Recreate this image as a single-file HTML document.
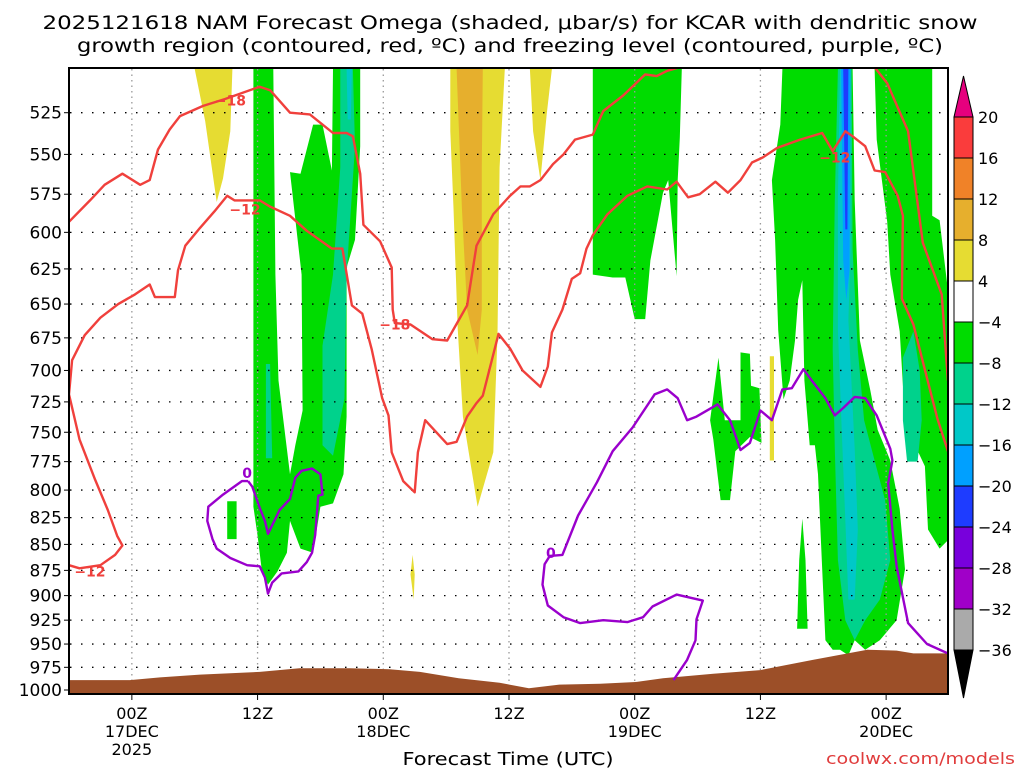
<!DOCTYPE html>
<html><head><meta charset="utf-8"><title>NAM Forecast Omega KCAR</title>
<style>
html,body{margin:0;padding:0;background:#fff;}
svg{display:block;font-family:"DejaVu Sans","Liberation Sans",sans-serif;}
</style></head>
<body>
<svg id="chart" width="1024" height="768" viewBox="0 0 1024 768" xmlns="http://www.w3.org/2000/svg">
<defs><clipPath id="plotclip"><rect x="69" y="68" width="879" height="626"/></clipPath></defs>
<text x="510" y="29" text-anchor="middle" font-size="19" textLength="935" lengthAdjust="spacingAndGlyphs">2025121618 NAM Forecast Omega (shaded, μbar/s) for KCAR with dendritic snow</text>
<text x="510" y="52" text-anchor="middle" font-size="19" textLength="866" lengthAdjust="spacingAndGlyphs">growth region (contoured, red, ºC) and freezing level (contoured, purple, ºC)</text>
<g id="shade" clip-path="url(#plotclip)"></g>
<g id="grid"></g>
<g id="terrain" clip-path="url(#plotclip)"></g>
<g id="contours" clip-path="url(#plotclip)"></g>
<rect x="69" y="68" width="879" height="626" fill="none" stroke="#000" stroke-width="2"/>
<g id="yaxis"></g>
<g id="xaxis"></g>
<text x="508" y="765" text-anchor="middle" font-size="18" textLength="211" lengthAdjust="spacingAndGlyphs">Forecast Time (UTC)</text>
<text x="1015" y="764" text-anchor="end" font-size="16" fill="#e03c3c" textLength="189" lengthAdjust="spacingAndGlyphs">coolwx.com/models</text>
<g id="colorbar"></g>
</svg>
<script>
// ---- data ----
const pressureTicks = [525,550,575,600,625,650,675,700,725,750,775,800,825,850,875,900,925,950,975,1000];
const timeTickHours = [6,18,30,42,54,66,78];
const timeTickLabels = [["00Z","17DEC","2025"],["12Z"],["00Z","18DEC"],["12Z"],["00Z","19DEC"],["12Z"],["00Z","20DEC"]];
const colorLevels = ["20","16","12","8","4","-4","-8","-12","-16","-20","-24","-28","-32","-36"];
const colorFills = ["#fa3c3c","#f08228","#e6af2d","#e6dc32","#ffffff","#00dc00","#00d28c","#00c8c8","#00a0ff","#1e3cff","#7800dc","#a000c8","#aaaaaa"];

// terrain (surface pressure)
const terrainHours = [0,5.8,8.7,12.5,18.2,22.0,26.8,30.6,33.5,37.2,41.1,43.9,46.8,50.7,54.2,56.7,61.5,66.0,71.0,76.2,79.0,80.6,83.9];
const terrainPres  = [989,989,986,983,980,976,976,977,980,987,992,998,994,993,991,987,982,978,967,956,957,960,960];

// shaded omega regions: [hour, hPa]
const greenA = [[17.6,500],[19.5,500],[19.7,629],[20.0,708],[21.1,786],[21.6,761],[22.3,732],[22.2,629],[21.1,561],[22.1,562],[23.3,532],[24.2,532],[25.1,560],[25.2,500],[27.8,500],[27.8,545],[27.3,605],[26.5,624],[26.5,737],[26.2,786],[25.2,812],[24.0,815],[23.3,858],[22.1,854],[21.1,828],[20.8,858],[19.9,876],[19.0,889],[18.4,875],[18.0,842],[17.6,815]];
const tealA = [[25.9,500],[27.1,500],[27.3,545],[26.5,629],[26.3,722],[25.2,770],[24.2,761],[24.2,681],[25.2,629],[25.9,558]];
const tealStreak = [[18.8,695],[19.2,695],[19.4,772],[18.8,772]];
const cyanA = [[26.5,500],[27.0,500],[26.9,529],[26.6,529]];
const greenRect = [[15.1,810],[16.0,810],[16.0,845],[15.1,845]];
const yellow1 = [[12.0,500],[15.6,500],[15.4,536],[14.7,565],[14.1,580],[13.0,530]];
const yellow2 = [[36.4,500],[41.6,500],[41.1,558],[40.9,673],[40.5,767],[39.0,815],[37.6,737],[37.1,668],[36.7,584],[36.4,536]];
const orange2 = [[37.0,500],[39.5,500],[39.4,558],[39.4,654],[39.0,688],[38.0,654],[37.5,584]];
const yellow3 = [[44.0,500],[46.1,500],[45.6,526],[45.0,566],[44.3,536]];
const yellowDot1 = [[32.8,860],[33.0,879],[32.9,904],[32.6,879]];
const yellowDot2 = [[66.9,689],[67.3,689],[67.3,774],[66.9,774]];
const green2 = [[50.0,500],[58.5,500],[58.3,540],[58.1,566],[58.0,630],[57.2,566],[56.7,574],[55.5,619],[55.0,661],[54.0,661],[53.1,631],[51.9,631],[50.0,629]];
const greenMid = [[62.0,690],[62.6,740],[64.1,740],[64.1,686],[65.0,687],[65.1,712],[65.9,714],[66.1,759],[65.0,754],[63.6,766],[63.1,809],[62.2,809],[61.5,756],[61.2,740]];
const green3 = [[68.1,500],[74.8,500],[75.0,579],[75.5,677],[76.5,716],[77.2,748],[78.4,774],[79.3,817],[79.8,874],[79.0,925],[77.4,946],[76.0,956],[75.0,946],[74.4,962],[73.6,956],[72.9,956],[72.2,946],[71.9,874],[71.5,786],[71.2,761],[70.7,761],[70.2,708],[70.0,633],[69.6,647],[69.3,677],[68.8,708],[68.2,723],[67.7,669],[67.4,605],[67.1,566],[67.9,532]];
const green5 = [[70.0,826],[70.3,865],[70.5,934],[69.5,934],[69.7,865]];
const green4 = [[76.9,500],[82.4,500],[82.4,589],[83.1,592],[83.9,640],[83.9,846],[83.1,854],[82.0,836],[81.7,779],[80.5,756],[79.8,740],[79.3,670],[78.4,629],[78.1,593],[77.1,541]];
const teal3 = [[73.4,500],[74.7,500],[74.8,612],[75.3,684],[75.9,740],[76.9,774],[77.9,809],[78.4,865],[77.4,904],[76.0,925],[75.0,946],[74.1,925],[73.4,865],[73.1,764],[72.9,684],[73.1,579]];
const cyan3 = [[73.6,500],[74.6,500],[74.6,612],[74.4,662],[75.0,764],[75.3,836],[75.0,904],[74.4,904],[74.1,827],[73.8,756],[73.4,669],[73.4,579]];
const lightBlue3 = [[73.7,500],[74.6,500],[74.5,626],[74.2,647],[73.9,619]];
const blue3 = [[73.9,500],[74.4,500],[74.3,598],[74.1,598]];
const teal4 = [[79.6,690],[80.6,670],[81.2,700],[81.4,740],[81.0,775],[80.0,775],[79.6,740]];

// contours: [hour, hPa]
const dgz18a = [[0,593],[2.0,579],[3.4,569],[5.1,562],[6.8,569],[7.7,566],[8.5,547],[9.6,535],[10.6,527],[12.8,521],[14.9,517],[18.2,510],[19.2,512],[21.1,525],[23.0,526],[25.2,537],[26.5,537],[27.1,539],[27.8,562],[28.1,595],[29.7,606],[30.8,624],[30.9,654],[31.1,664],[32.6,665],[34.7,676],[36.1,677],[38.0,651],[38.9,609],[40.5,588],[42.1,576],[43.1,570],[44.0,570],[45.0,566],[46.2,556],[47.2,550],[48.3,541],[50.0,538],[51.0,524],[52.9,515],[55.0,503],[56.1,504],[57.1,501],[58.3,499]];
const dgz18b = [[76.9,499],[78.1,508],[80.1,536],[81.5,607],[83.3,643],[83.9,708]];
const dgz12 = [[0,870],[1.0,873],[3.0,870],[4.4,860],[5.1,851],[4.6,842],[3.7,818],[2.5,791],[1.0,756],[0,719],[0.3,692],[1.5,673],[3.0,660],[4.7,650],[6.3,643],[7.7,636],[8.2,645],[10.1,645],[10.4,626],[11.1,609],[12.5,597],[13.9,586],[15.1,576],[15.8,579],[18.2,579],[19.2,583],[21.1,589],[22.7,599],[25.1,611],[26.1,611],[27.0,651],[28.0,657],[28.9,684],[29.9,722],[30.5,736],[30.8,767],[31.9,792],[33.0,802],[33.3,767],[34.0,740],[36.1,760],[37.0,758],[38.0,737],[38.9,726],[39.5,720],[41.0,672],[42.1,683],[43.3,700],[45.0,713],[45.7,697],[46.1,671],[47.1,654],[48.0,632],[48.8,628],[49.4,611],[50.0,602],[51.4,588],[53.3,576],[55.2,570],[57.1,572],[58.0,567],[59.1,577],[60.2,575],[61.7,567],[62.9,574],[64.1,566],[65.2,555],[66.2,552],[67.6,546],[69.8,541],[71.9,537],[72.9,548],[74.1,536],[74.8,539],[76.0,545],[76.9,560],[77.9,561],[79.1,576],[79.6,589],[79.5,646],[80.6,665],[81.9,706],[82.9,739],[83.9,766]];
const frz0a = [[17.1,792],[16.5,792],[14.7,804],[13.3,815],[13.2,828],[13.7,845],[14.1,854],[15.4,863],[17.0,870],[18.2,871],[18.7,882],[19.0,898],[19.4,887],[20.3,878],[21.9,876],[22.7,867],[23.2,858],[23.5,841],[23.8,805],[24.2,804],[24.0,786],[23.2,781],[22.2,783],[21.6,789],[21.1,808],[20.1,818],[19.0,840],[18.7,828],[18.2,816],[17.5,797]];
const frz0b = [[57.7,989],[59.0,967],[59.8,946],[59.9,924],[60.5,905],[58.0,899],[55.7,911],[54.8,922],[53.3,927],[51.0,925],[48.8,928],[47.2,922],[45.7,910],[45.2,889],[45.4,869],[45.9,861],[47.1,860],[48.6,823],[50.4,793],[51.9,766],[53.8,746],[55.9,719],[57.1,715],[58.1,722],[59.0,740],[59.9,737],[61.9,727],[63.1,740],[64.1,765],[65.0,759],[66.0,732],[67.1,740],[68.1,715],[69.0,714],[70.1,699],[71.0,709],[72.2,722],[73.1,736],[73.9,730],[75.0,721],[76.0,722],[77.1,736],[78.4,764],[78.6,774],[78.2,794],[78.6,836],[79.0,871],[80.1,928],[81.9,950],[83.9,960]];
const redLabels = [[15.4,518,"−18"],[31.1,665,"−18"],[16.8,585,"−12"],[2.0,876,"−12"],[73.1,552,"−12"]];
const purpleLabels = [[17.0,785,"0"],[46.0,858,"0"]];

// ---- axes ----
const X0=69, PX_PER_H=10.476, Y1000=690, PX_PER_OCT=621;
function xs(h){return X0+h*PX_PER_H;}
function ys(p){return Y1000-Math.log(1000/p)/Math.LN2*PX_PER_OCT;}
const NS="http://www.w3.org/2000/svg";
function mk(tag,attrs,parent){const e=document.createElementNS(NS,tag);for(const k in attrs)e.setAttribute(k,attrs[k]);parent.appendChild(e);return e;}
function pts(arr){return arr.map(d=>xs(d[0]).toFixed(1)+","+ys(d[1]).toFixed(1)).join(" ");}

const shade=document.getElementById("shade");
function poly(arr,fill,name){
  const e=mk("polygon",{points:pts(arr),fill:fill},shade);
  
  
}
poly(yellow1,"#e6dc32","omega-yellow-1");
poly(yellow2,"#e6dc32","omega-yellow-2");
poly(orange2,"#e6af2d","omega-gold-2");
poly(yellow3,"#e6dc32","omega-yellow-3");
poly(yellowDot1,"#e6dc32","omega-yellow-dot-1");
poly(yellowDot2,"#e6dc32","omega-yellow-dot-2");
poly(greenA,"#00dc00","omega-green-a");
poly(tealA,"#00d28c","omega-teal-a");
poly(cyanA,"#00c8c8","omega-cyan-a");
poly(tealStreak,"#00d28c","omega-teal-streak");
poly(greenRect,"#00dc00","omega-green-small");
poly(green2,"#00dc00","omega-green-2");
poly(greenMid,"#00dc00","omega-green-mid");
poly(green3,"#00dc00","omega-green-3");
poly(green5,"#00dc00","omega-green-5");
poly(green4,"#00dc00","omega-green-4");
poly(teal3,"#00d28c","omega-teal-3");
poly(teal4,"#00d28c","omega-teal-4");
poly(cyan3,"#00c8c8","omega-cyan-3");
poly(lightBlue3,"#00a0ff","omega-lightblue-3");
poly(blue3,"#1e3cff","omega-blue-3");

// grid
const grid=document.getElementById("grid");
pressureTicks.forEach(p=>{
  if(p>=1000) return;
  const l=mk("line",{x1:70,x2:947,y1:ys(p),y2:ys(p),stroke:"#000","stroke-width":1.3,"stroke-dasharray":"1.5,9.5"},grid);
  
  
});
timeTickHours.forEach(h=>{
  const l=mk("line",{x1:xs(h),x2:xs(h),y1:69,y2:693,stroke:"#999","stroke-width":1.3,"stroke-dasharray":"1.5,4"},grid);
  
  
});

// terrain
const terr=document.getElementById("terrain");
let tp=terrainHours.map((h,i)=>xs(h).toFixed(1)+","+ys(terrainPres[i]).toFixed(1)).join(" ");
tp+=" "+xs(terrainHours[terrainHours.length-1])+",700 "+xs(terrainHours[0])+",700";
const tpoly=mk("polygon",{points:tp,fill:"#9c4f28"},terr);



// contours
const cont=document.getElementById("contours");
function line(arr,color,name){
  const e=mk("polyline",{points:pts(arr),fill:"none",stroke:color,"stroke-width":2.4,"stroke-linejoin":"round"},cont);
  
  
}
line(dgz18a,"#f0403c","dgz-minus18-contour");
line(dgz18b,"#f0403c","dgz-minus18-contour-right");
line(dgz12,"#f0403c","dgz-minus12-contour");
line(frz0a.concat([frz0a[0]]),"#9a00cc","freezing-level-contour-1");
line(frz0b,"#9a00cc","freezing-level-contour-2");
redLabels.forEach(d=>{
  const t=mk("text",{x:xs(d[0]),y:ys(d[1])+5,"text-anchor":"middle","font-size":14,"font-weight":"bold",fill:"#f0403c"},cont);
  t.textContent=d[2];
  
  
});
purpleLabels.forEach(d=>{
  const t=mk("text",{x:xs(d[0]),y:ys(d[1])+5,"text-anchor":"middle","font-size":14,"font-weight":"bold",fill:"#9a00cc"},cont);
  t.textContent=d[2];
  
  
});

// y axis
const ya=document.getElementById("yaxis");
pressureTicks.forEach(p=>{
  const t=mk("text",{x:62,y:ys(p)+6,"text-anchor":"end","font-size":17},ya);
  t.textContent=p;
  
  
  const k=mk("line",{x1:64,x2:69,y1:ys(p),y2:ys(p),stroke:"#000","stroke-width":1},ya);
  
  
});

// x axis
const xa=document.getElementById("xaxis");
timeTickHours.forEach((h,i)=>{
  const k=mk("line",{x1:xs(h),x2:xs(h),y1:694,y2:700,stroke:"#000","stroke-width":1},xa);
  
  
  timeTickLabels[i].forEach((s,j)=>{
    const t=mk("text",{x:xs(h),y:719+j*18,"text-anchor":"middle","font-size":16},xa);
    t.textContent=s;
    
    
  });
});

// colorbar
const cb=document.getElementById("colorbar");
const CBX=954, CBW=19, CBT=117, CBH=41;
const topTri=mk("polygon",{points:`${CBX},${CBT} ${CBX+CBW},${CBT} ${CBX+CBW/2},76`,fill:"#e6007e",stroke:"#000","stroke-width":1},cb);


colorFills.forEach((c,i)=>{
  const r=mk("rect",{x:CBX,y:CBT+i*CBH,width:CBW,height:CBH,fill:c,stroke:"#000","stroke-width":1},cb);
  
  
});
const botY=CBT+colorFills.length*CBH;
const botTri=mk("polygon",{points:`${CBX},${botY} ${CBX+CBW},${botY} ${CBX+CBW/2},698`,fill:"#000",stroke:"#000","stroke-width":1},cb);


colorLevels.forEach((s,i)=>{
  const t=mk("text",{x:978,y:CBT+i*CBH+6,"font-size":16},cb);
  t.textContent=s.replace("-","−");
  
  
});
</script>
</body></html>
